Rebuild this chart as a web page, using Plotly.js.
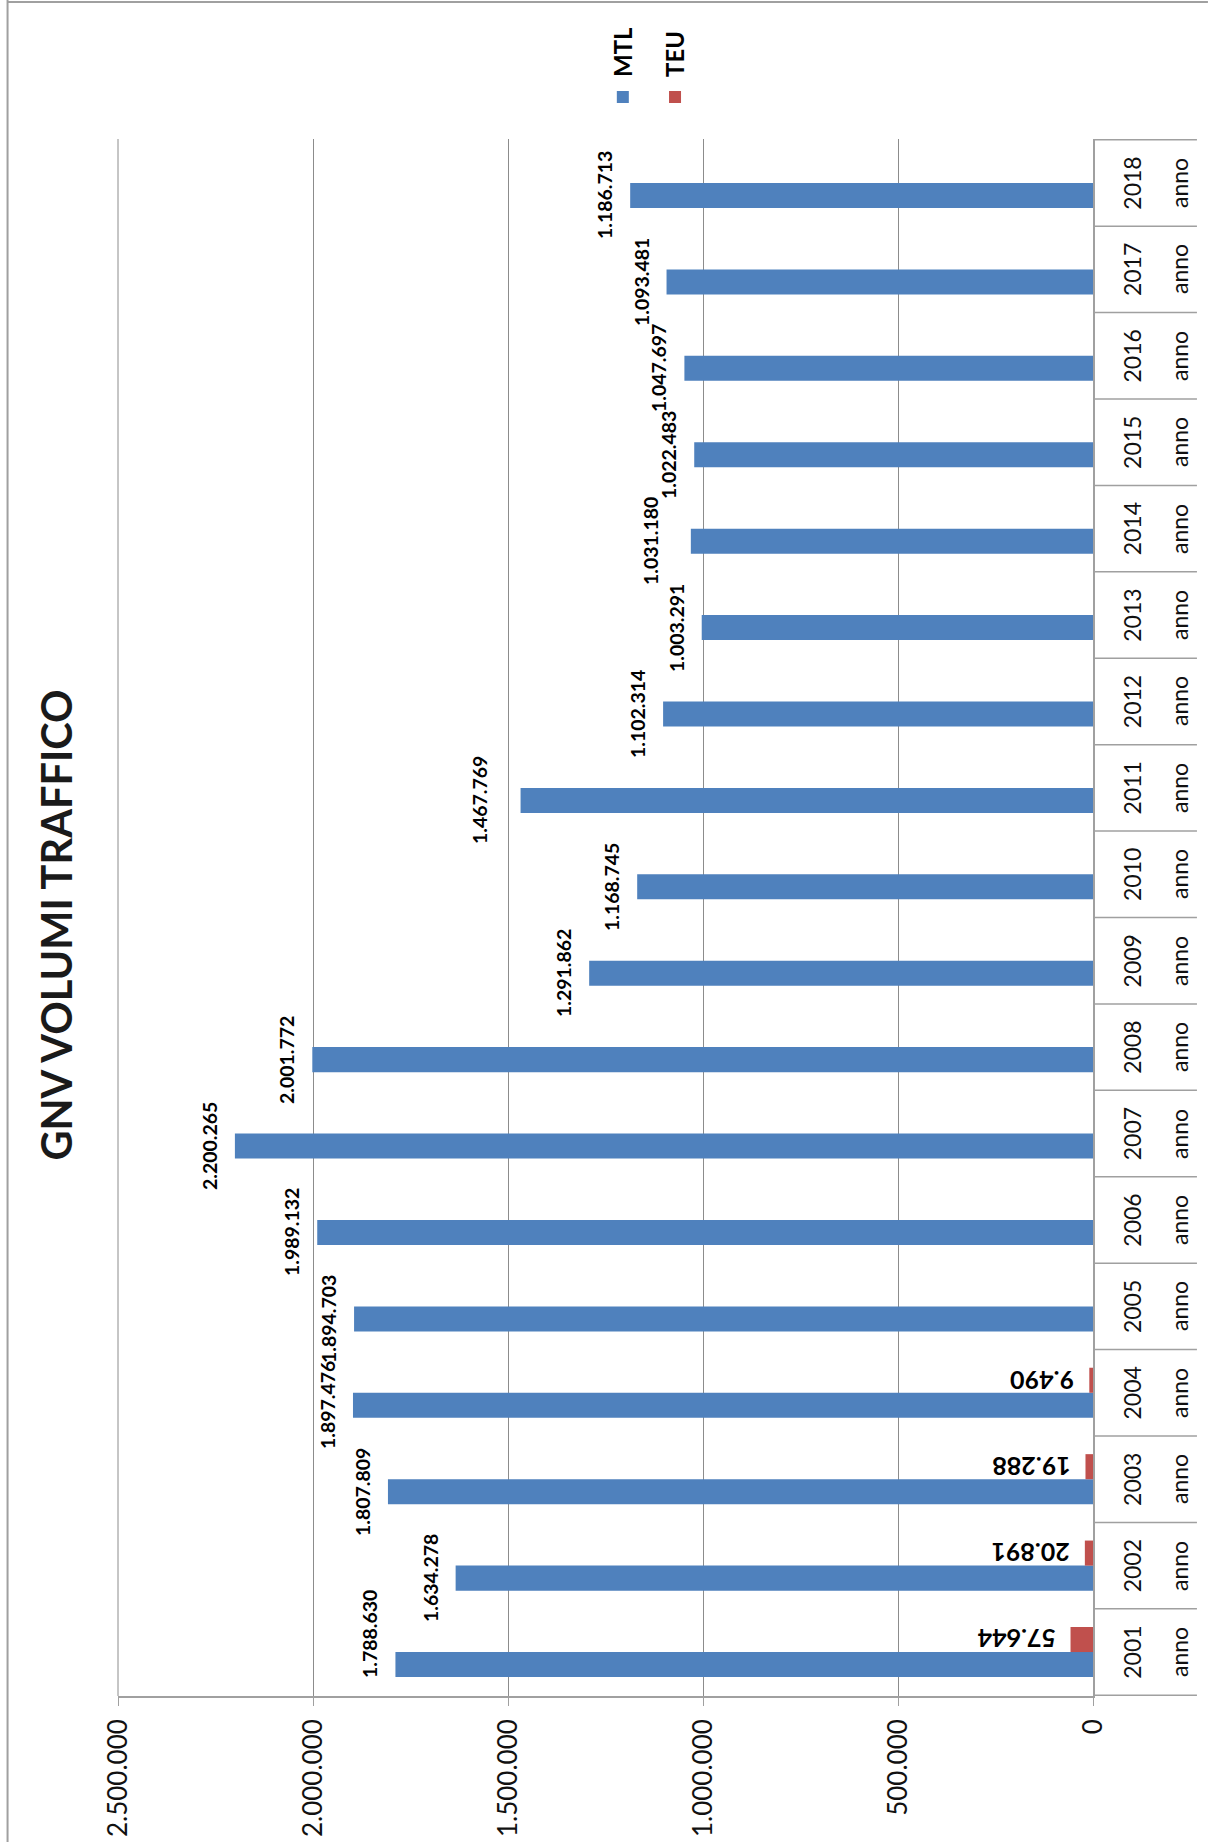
<!DOCTYPE html>
<html>
<head>
<meta charset="utf-8">
<script src="https://cdn.plot.ly/plotly-3.0.1.min.js"></script>
<style>
  html, body { margin:0; padding:0; background:#ffffff; width:1208px; height:1842px; overflow:hidden; }
  #chart { position:absolute; left:0; top:0; width:1842px; height:1208px;
           transform-origin:0 0; transform: translate(0px, 1842px) rotate(-90deg); }
</style>
</head>
<body>
<div id="chart"></div>
<script>
// ---- data ----
const years = ["2001","2002","2003","2004","2005","2006","2007","2008","2009","2010","2011","2012","2013","2014","2015","2016","2017","2018"];
const yearSuffix = "anno";
const mtlValues = [1788630,1634278,1807809,1897476,1894703,1989132,2200265,2001772,1291862,1168745,1467769,1102314,1003291,1031180,1022483,1047697,1093481,1186713];
const teuValues = [57644,20891,19288,9490,null,null,null,null,null,null,null,null,null,null,null,null,null,null];
const seriesNames = ["MTL","TEU"];
const chartTitle = "GNV VOLUMI TRAFFICO";
const valueTicks = [0,500000,1000000,1500000,2000000,2500000];

// ---- layout constants (pre-rotation canvas) ----
const W = 1842, H = 1208;
const M = {l:146, r:139, t:117.5, b:115};
const plotW = W - M.l - M.r, plotH = H - M.t - M.b;
const px2x = u => (u - M.l) / plotW;
const px2y = v => (H - M.b - v) / plotH;
const bargap = 0.42;
const off = (1 - bargap) / 4;
const FONT = "Lato, 'Open Sans', sans-serif";
const BLUE = "#4F81BD", RED = "#C0504D", GRID = "#8c8c8c", AXIS = "#a0a0a0";
const labelNudge = {0:{dx:31, dy:0}, 10:{dx:0, dy:16}, 13:{dx:0, dy:15}};

function fmt(n){ return String(n).replace(/\B(?=(\d{3})+(?!\d))/g, "."); }

const traces = [
  {type:"bar", name:seriesNames[0], x:years, y:mtlValues, marker:{color:BLUE}, legendgroup:"a", hoverinfo:"skip"},
  {type:"bar", name:seriesNames[1], x:years, y:teuValues, marker:{color:RED}, legendgroup:"b", hoverinfo:"skip"}
];

const annotations = [];
mtlValues.forEach((v,i) => {
  const n = labelNudge[i] || {dx:0, dy:0};
  annotations.push({xref:"x", yref:"y", x:i - off, y:v, text:fmt(v), showarrow:false,
    xanchor:"center", yanchor:"bottom", yshift:12 + n.dy, xshift:n.dx,
    font:{family:FONT, size:19.5, weight:"bold", color:"#000"}});
});
teuValues.forEach((v,i) => {
  if (v === null) return;
  annotations.push({xref:"x", yref:"y", x:i + off, y:v, text:fmt(v), showarrow:false,
    textangle:-90, xanchor:"center", yanchor:"bottom", yshift:13,
    font:{family:FONT, size:25, weight:"bold", color:"#000"}});
});
years.forEach((y,i) => {
  annotations.push({xref:"x", yref:"paper", x:i, y:0, text:yearSuffix, showarrow:false,
    xanchor:"center", yanchor:"top", yshift:-70,
    font:{family:FONT, size:23, color:"#111"}});
});

const shapes = [];
for (let i = 0; i <= years.length; i++) {
  shapes.push({type:"line", xref:"x", yref:"paper", x0:i - 0.5, x1:i - 0.5, y0:0, y1:px2y(1197),
    line:{color:AXIS, width:1.5}});
}
// top gridline at the axis maximum (Plotly drops the grid line on the plot edge)
shapes.push({type:"line", xref:"paper", yref:"paper", x0:0, x1:1, y0:1, y1:1,
  line:{color:GRID, width:1}});
shapes.push({type:"line", xref:"paper", yref:"paper", x0:px2x(0), x1:px2x(1842), y0:px2y(7), y1:px2y(7), line:{color:AXIS, width:2}});
shapes.push({type:"line", xref:"paper", yref:"paper", x0:px2x(1840), x1:px2x(1840), y0:px2y(7), y1:px2y(1208), line:{color:AXIS, width:2}});

const layout = {
  width:W, height:H, margin:M, autosize:false,
  paper_bgcolor:"#ffffff", plot_bgcolor:"#ffffff",
  separators:",.",
  barmode:"group", bargap:bargap, bargroupgap:0,
  title:{text:chartTitle, x:px2x(917), xref:"paper", xanchor:"center", y:1 - 43/H, yref:"container", yanchor:"top",
         font:{family:FONT, size:41.5, weight:"bold", color:"#1a1a1a"}},
  xaxis:{type:"category", showline:true, linecolor:AXIS, linewidth:2, ticks:"", showgrid:false,
         ticklabelstandoff:18, tickfont:{family:FONT, size:23, color:"#111"}, fixedrange:true},
  yaxis:{range:[0,2500000], tickvals:valueTicks, tickformat:",", showgrid:true, gridcolor:GRID, gridwidth:1,
         zeroline:false, showline:true, linecolor:AXIS, linewidth:2, ticks:"outside", ticklen:8, tickcolor:AXIS,
         ticklabelstandoff:8, tickfont:{family:FONT, size:26, color:"#111"}, fixedrange:true},
  legend:{x:px2x(1725), xanchor:"left", y:px2y(649), yanchor:"middle", orientation:"v",
          tracegroupgap:18, traceorder:"grouped", bgcolor:"rgba(0,0,0,0)",
          font:{family:FONT, size:24, weight:"bold", color:"#000"}},
  annotations:annotations, shapes:shapes
};

Plotly.newPlot("chart", traces, layout, {displayModeBar:false, staticPlot:true});
</script>
</body>
</html>
